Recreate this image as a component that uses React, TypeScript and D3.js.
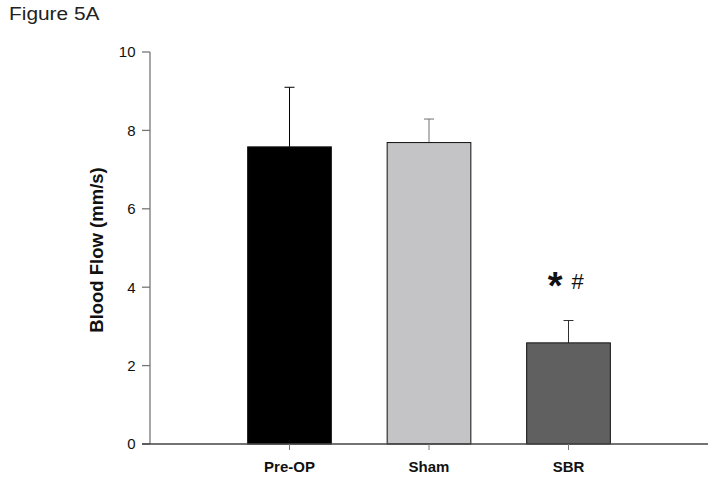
import { useEffect, useRef } from 'react';
import * as d3 from 'd3';

const groups = ['Pre-OP', 'Sham', 'SBR'];
const means = [7.58, 7.69, 2.58];
const errors = [1.52, 0.6, 0.57];
const barColors = ['#000000', '#c4c3c5', '#606060'];
const errColors = ['#000000', '#707070', '#303030'];
const yTicks = [0, 2, 4, 6, 8, 10];

const W = 714;
const H = 481;

export default function App() {
  const svgRef = useRef<SVGSVGElement>(null);

  useEffect(() => {
    const svg = d3.select(svgRef.current);
    svg.selectAll('*').remove();

    const font = 'Liberation Sans, Arial, sans-serif';
    const x = d3.scalePoint<string>().domain(groups).range([150, 708]).padding(1);
    const y = d3.scaleLinear().domain([0, 10]).range([444, 52]);
    const bw = x.step() * 0.6;

    // title is a bit wider than plain Arial in the source image
    svg.append('text')
      .attr('transform', 'translate(9,20) scale(1.13,1)')
      .attr('font-family', font).attr('font-size', 18.5)
      .attr('fill', '#222')
      .text('Figure 5A');

    // error bars (drawn first so bar covers the lower part)
    groups.forEach((g, i) => {
      const cx = x(g)!;
      const top = y(means[i] + errors[i]);
      svg.append('line')
        .attr('x1', cx).attr('x2', cx)
        .attr('y1', y(means[i])).attr('y2', top)
        .attr('stroke', errColors[i]).attr('stroke-width', 1);
      svg.append('line')
        .attr('x1', cx - 5).attr('x2', cx + 5)
        .attr('y1', top).attr('y2', top)
        .attr('stroke', errColors[i]).attr('stroke-width', 1);
    });

    svg.selectAll('rect.bar')
      .data(groups)
      .enter().append('rect')
      .attr('class', 'bar')
      .attr('x', d => x(d)! - bw / 2)
      .attr('y', (d, i) => y(means[i]))
      .attr('width', bw)
      .attr('height', (d, i) => y(0) - y(means[i]))
      .attr('fill', (d, i) => barColors[i])
      .attr('stroke', '#111')
      .attr('stroke-width', 1);

    // y axis
    const ya = svg.append('g');
    ya.append('line')
      .attr('x1', 150).attr('x2', 150).attr('y1', y(10)).attr('y2', y(0))
      .attr('stroke', '#777').attr('stroke-width', 1.3);
    yTicks.forEach(t => {
      ya.append('line')
        .attr('x1', 142).attr('x2', 150).attr('y1', y(t)).attr('y2', y(t))
        .attr('stroke', '#777').attr('stroke-width', 1.3);
      ya.append('text')
        .attr('x', 135.5).attr('y', y(t)).attr('dy', '0.36em')
        .attr('text-anchor', 'end')
        .attr('font-family', font).attr('font-size', 15)
        .attr('fill', '#111')
        .text(t);
    });

    // x axis
    const xa = svg.append('g');
    xa.append('line')
      .attr('x1', 142).attr('x2', 708).attr('y1', y(0)).attr('y2', y(0))
      .attr('stroke', '#444').attr('stroke-width', 1.3);
    groups.forEach(g => {
      xa.append('line')
        .attr('x1', x(g)!).attr('x2', x(g)!).attr('y1', y(0)).attr('y2', y(0) + 6)
        .attr('stroke', '#777').attr('stroke-width', 1);
      xa.append('text')
        .attr('x', x(g)!).attr('y', 472)
        .attr('text-anchor', 'middle')
        .attr('font-family', font).attr('font-size', 15).attr('font-weight', 'bold')
        .attr('fill', '#111')
        .text(g);
    });

    svg.append('text')
      .attr('transform', `translate(103,250) rotate(-90)`)
      .attr('text-anchor', 'middle')
      .attr('font-family', font).attr('font-size', 18.5).attr('font-weight', 'bold')
      .attr('fill', '#111')
      .text('Blood Flow (mm/s)');

    // significance marks
    const sx = x('SBR')!;
    svg.append('text')
      .attr('x', sx - 6).attr('y', y(3.75) + 1.5)
      .attr('text-anchor', 'end')
      .attr('font-family', font).attr('font-size', 38).attr('font-weight', 'bold')
      .attr('fill', '#111')
      .text('*');
    svg.append('text')
      .attr('x', sx + 3).attr('y', 288.5)
      .attr('font-family', font).attr('font-size', 22)
      .attr('fill', '#111')
      .text('#');
  }, []);

  return <svg ref={svgRef} width={W} height={H} style={{ position: 'absolute', left: 0, top: 0 }} />;
}
